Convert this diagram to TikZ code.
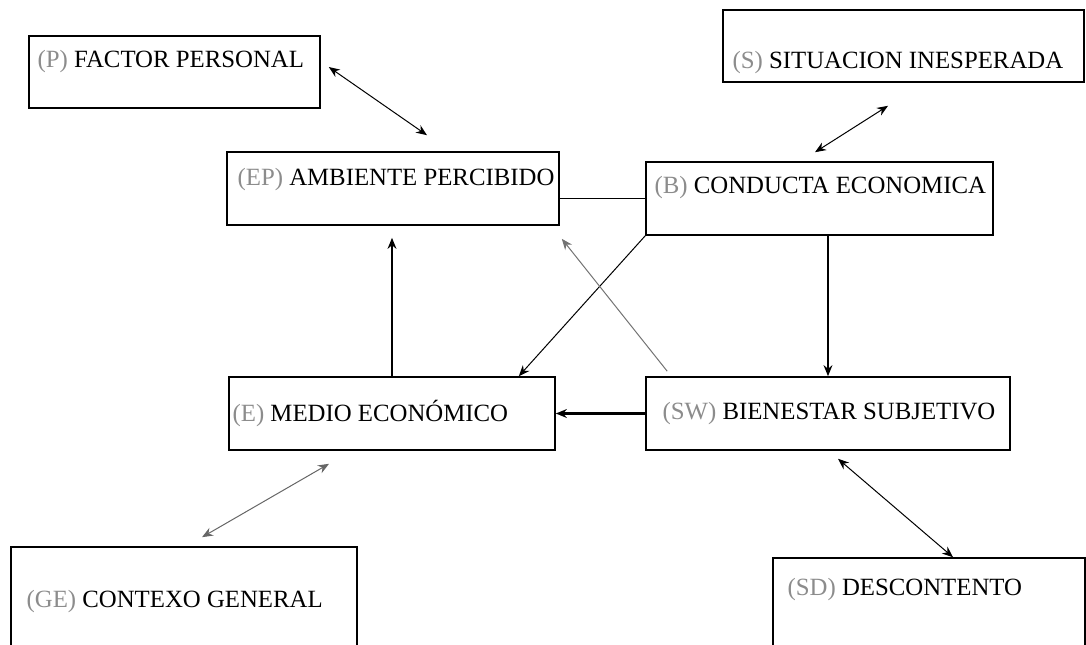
\documentclass[tikz,border=0pt]{standalone}
\usepackage{fontspec}
\setmainfont{Liberation Serif}
\usetikzlibrary{arrows.meta,positioning,calc}
\newcommand{\pre}[1]{{\color{black!45}#1}}

\begin{document}
\begin{tikzpicture}[x=0.5pt,y=-0.5pt,>={Stealth[length=5.5pt,width=4.4pt]},
  bx/.style={draw,line width=0.8pt,inner sep=0pt},
  txt/.style={anchor=west,inner sep=0pt,font=\fontsize{12.4}{14}\selectfont},
  thn/.style={line width=0.5pt},
  thk/.style={->,line width=1.1pt}]
\useasboundingbox (0,0) rectangle (1086,644);
\node[bx,minimum width=145.5pt,minimum height=36pt,
  label={[txt,xshift=4.5pt,yshift=5pt]west:\pre{(P)} FACTOR PERSONAL}] (P) at (174.5,72) {};
\node[bx,minimum width=180.5pt,minimum height=36pt,
  label={[txt,xshift=5pt,yshift=-8.5pt]west:\pre{(S)} SITUACION INESPERADA}] (S) at (903.5,46) {};
\node[bx,minimum width=166pt,minimum height=36.5pt,
  label={[txt,xshift=5.5pt,yshift=4.25pt]west:\pre{(EP)} AMBIENTE PERCIBIDO}] (EP) at (393,188.5) {};
\node[bx,minimum width=173.5pt,minimum height=36.5pt,
  label={[txt,xshift=4.5pt,yshift=5.25pt]west:\pre{(B)} CONDUCTA ECONOMICA}] (B) at (819.5,198.5) {};
\node[bx,minimum width=163pt,minimum height=36.5pt,
  label={[txt,xshift=2pt]west:\pre{(E)} MEDIO ECONÓMICO}] (E) at (392,413.5) {};
\node[bx,minimum width=182pt,minimum height=36.5pt,
  label={[txt,xshift=8.5pt]west:\pre{(SW)} BIENESTAR SUBJETIVO}] (SW) at (828,413.5) {};
\node[bx,minimum width=173pt,minimum height=66.5pt,
  label={[txt,xshift=8pt,yshift=5.75pt]west:\pre{(GE)} CONTEXO GENERAL}] (GE) at (184,613.5) {};
\node[bx,minimum width=156pt,minimum height=61pt,
  label={[txt,xshift=7.5pt,yshift=14.5pt]west:\pre{(SD)} DESCONTENTO}] (SD) at (929,619) {};
% links
\draw[thn,<->] ([xshift=4pt,yshift=2.5pt]P.east) -- ([xshift=17pt,yshift=8pt]EP.north);
\draw[thn,<->] ([xshift=-7.75pt,yshift=-11.5pt]S.south) -- ([xshift=-2.25pt,yshift=4.5pt]B.north);
\draw[thn] (B.west) -- (B.west -| EP.east);
\draw[thk] (E.north) -- ([yshift=-6pt]E.north |- EP.south);
\draw[thk] (B.south -| SW.north) -- (SW.north);
\draw[thk] (SW.west) -- (E.east);
\draw[thn,->] (B.south west) -- ([xshift=-18.5pt]E.north east);
\draw[thn,->,black!55] ([xshift=11pt,yshift=2.5pt]SW.north west) -- ([xshift=1pt,yshift=-6.5pt]EP.south east);
\draw[thn,<->,black!60] ([xshift=-31.5pt,yshift=-6.5pt]E.south) -- ([xshift=9pt,yshift=4.5pt]GE.north);
\draw[thn,<->] ([xshift=5pt,yshift=-4pt]SW.south) -- ([xshift=12pt]SD.north);
\end{tikzpicture}
\end{document}
